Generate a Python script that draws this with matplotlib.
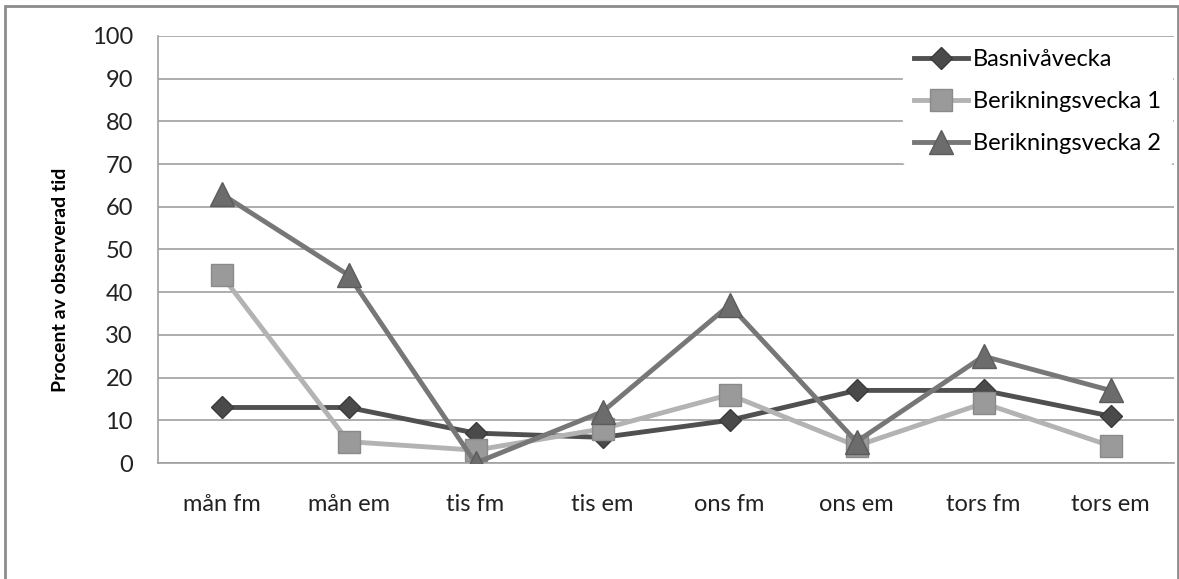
import numpy as np
import matplotlib.pyplot as plt
from matplotlib.patches import Rectangle

categories = ['mån fm', 'mån em', 'tis fm', 'tis em', 'ons fm', 'ons em', 'tors fm', 'tors em']
basniva = [13, 13, 7, 6, 10, 17, 17, 11]
berik1 = [44, 5, 3, 8, 16, 4, 14, 4]
berik2 = [63, 44, 0, 12, 37, 5, 25, 17]

plt.rcParams['font.family'] = ['Lato', 'DejaVu Sans']

fig = plt.figure(figsize=(11.79, 5.79), dpi=100)
ax = fig.add_axes([158 / 1179, 1 - 463 / 579, (1174 - 158) / 1179, (463 - 36) / 579])

x = np.arange(len(categories))

ax.plot(x, basniva, '-', color='#505050', lw=3.5, marker='D', ms=11.5,
        mfc='#4a4a4a', mec='#3a3a3a', label='Basnivåvecka', zorder=3)
ax.plot(x, berik1, '-', color='#b3b3b3', lw=3.5, marker='s', ms=16,
        mfc='#9a9a9a', mec='#8a8a8a', label='Berikningsvecka 1', zorder=4)
ax.plot(x, berik2, '-', color='#777777', lw=3.5, marker='^', ms=17,
        mfc='#6c6c6c', mec='#5c5c5c', label='Berikningsvecka 2', zorder=5)

ax.set_xlim(-0.5, len(categories) - 0.5)
ax.set_ylim(0, 100)
ax.set_yticks(range(0, 101, 10))
ax.set_xticks(x)
ax.set_xticklabels(categories)
ax.tick_params(axis='both', length=0, labelsize=17, colors='#222222')
ax.tick_params(axis='x', pad=22)
ax.tick_params(axis='y', pad=18)
ax.grid(axis='y', color='#a0a0a0', lw=1.2)
ax.set_axisbelow(True)
for side in ['top', 'right']:
    ax.spines[side].set_visible(False)
for side in ['left', 'bottom']:
    ax.spines[side].set_color('#a0a0a0')
    ax.spines[side].set_linewidth(1.2)

ax.set_ylabel('Procent av observerad tid', fontsize=14, fontweight='bold')
ax.yaxis.set_label_coords(-0.0876, 0.43)

leg = ax.legend(loc='upper right', bbox_to_anchor=(1.0, 1.0), frameon=True, fontsize=17,
                handlelength=2.3, labelspacing=0.9, borderpad=0.45, handletextpad=0.2,
                borderaxespad=0.1)
leg.get_frame().set_edgecolor('white')
leg.get_frame().set_facecolor('white')
leg.get_frame().set_alpha(1)

fig.patches.append(Rectangle((5 / 1179, -0.01), (1178 - 5) / 1179, 1 - 6 / 579 + 0.01,
                             transform=fig.transFigure, fill=False,
                             edgecolor='#8c8c8c', lw=2))

fig.savefig('out.png', dpi=100)
